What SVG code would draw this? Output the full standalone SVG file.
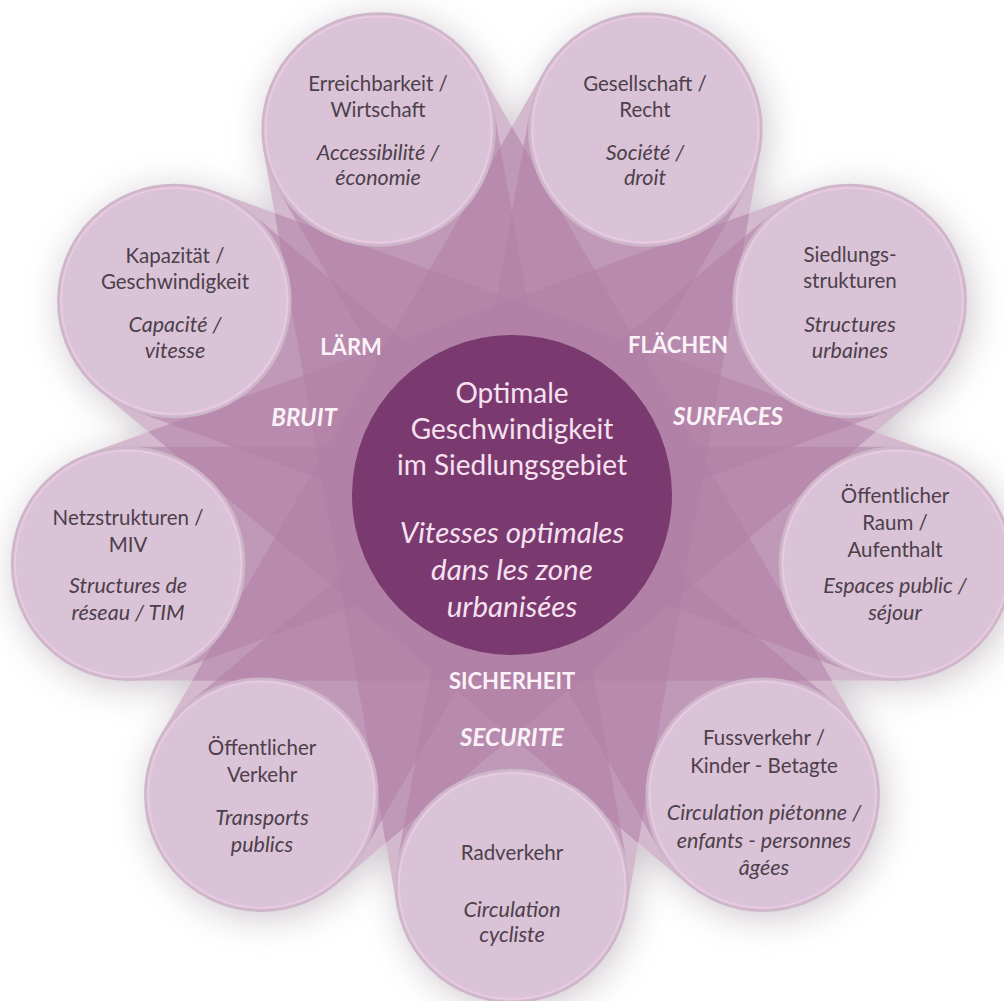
<svg xmlns="http://www.w3.org/2000/svg" xmlns:xlink="http://www.w3.org/1999/xlink" width="1004" height="1001" viewBox="0 0 1004 1001">
<style>
.band{fill:#b07fa6;fill-opacity:0.55}
.oc{fill:#dac3d6;stroke:#cdb6c8;stroke-width:2.5}
.rim{fill:none;stroke:#eccae5;stroke-width:1.5}
.t{font-family:Lato,"Open Sans","Liberation Sans",sans-serif;font-size:20.5px;fill:#4c404b;text-anchor:middle}
.t.i{font-style:italic;font-size:21.5px}
.c{font-family:Lato,"Open Sans","Liberation Sans",sans-serif;font-size:28px;fill:#f6e1f1;text-anchor:middle}
.c.i{font-style:italic;font-size:29.5px}
.lab{font-family:Lato,"Open Sans","Liberation Sans",sans-serif;font-size:22px;font-weight:bold;fill:#fbf2f8;text-anchor:middle}
.lab.i{font-style:italic;font-size:24px}
</style>
<defs>
<rect id="band" x="127.9" y="446.7" width="768.2" height="234"/>
<g id="bandset">
<use href="#band"/>
<use href="#band" transform="rotate(40 512 496)"/>
<use href="#band" transform="rotate(80 512 496)"/>
<use href="#band" transform="rotate(120 512 496)"/>
<use href="#band" transform="rotate(160 512 496)"/>
<use href="#band" transform="rotate(200 512 496)"/>
<use href="#band" transform="rotate(240 512 496)"/>
<use href="#band" transform="rotate(280 512 496)"/>
<use href="#band" transform="rotate(320 512 496)"/>
</g>
<g id="circset">
<circle cx="512" cy="886" r="117"/>
<circle cx="261.3" cy="794.7" r="117"/>
<circle cx="128.1" cy="563.7" r="117"/>
<circle cx="174.3" cy="301" r="117"/>
<circle cx="378.6" cy="129.5" r="117"/>
<circle cx="645.4" cy="129.5" r="117"/>
<circle cx="849.7" cy="301" r="117"/>
<circle cx="895.9" cy="563.7" r="117"/>
<circle cx="762.7" cy="794.7" r="117"/>
</g>
<filter id="blur" x="-20%" y="-20%" width="140%" height="140%">
<feGaussianBlur stdDeviation="18"/>
</filter>
<mask id="outside" maskUnits="userSpaceOnUse" x="0" y="0" width="1004" height="1001">
<rect x="0" y="0" width="1004" height="1001" fill="#fff"/>
<use href="#bandset" fill="#000"/>
<use href="#circset" fill="#000"/>
</mask>
</defs>
<rect x="0" y="0" width="1004" height="1001" fill="#ffffff"/>
<g id="shadow" mask="url(#outside)">
<g filter="url(#blur)" fill="#7e6a7b" opacity="0.38" transform="translate(4 6)">
<use href="#bandset"/>
<use href="#circset"/>
</g>
</g>
<g id="connectors">
<use href="#band" class="band"/>
<use href="#band" class="band" transform="rotate(40 512 496)"/>
<use href="#band" class="band" transform="rotate(80 512 496)"/>
<use href="#band" class="band" transform="rotate(120 512 496)"/>
<use href="#band" class="band" transform="rotate(160 512 496)"/>
<use href="#band" class="band" transform="rotate(200 512 496)"/>
<use href="#band" class="band" transform="rotate(240 512 496)"/>
<use href="#band" class="band" transform="rotate(280 512 496)"/>
<use href="#band" class="band" transform="rotate(320 512 496)"/>
</g>
<g id="labels">
<text class="lab" x="351" y="355">LÄRM</text>
<text class="lab i" x="304" y="426">BRUIT</text>
<text class="lab" x="678" y="353">FLÄCHEN</text>
<text class="lab i" x="728" y="425">SURFACES</text>
<text class="lab" x="512" y="689">SICHERHEIT</text>
<text class="lab i" x="512" y="746">SECURITE</text>
</g>
<g id="center">
<circle cx="512" cy="495" r="160" fill="#7b3a6f"/>
<text class="c" x="512" y="403">Optimale</text>
<text class="c" x="512" y="439">Geschwindigkeit</text>
<text class="c" x="512" y="475">im Siedlungsgebiet</text>
<text class="c i" x="512" y="543">Vitesses optimales</text>
<text class="c i" x="512" y="580">dans les zone</text>
<text class="c i" x="512" y="617">urbanisées</text>
</g>
<g id="erreichbarkeit">
<circle class="oc" cx="378.6" cy="129.5" r="116"/><circle class="rim" cx="378.6" cy="129.5" r="113"/>
<text class="t" x="378" y="91">Erreichbarkeit /</text>
<text class="t" x="378" y="117">Wirtschaft</text>
<text class="t i" x="378" y="160">Accessibilité /</text>
<text class="t i" x="378" y="185">économie</text>
</g>
<g id="gesellschaft">
<circle class="oc" cx="645.4" cy="129.5" r="116"/><circle class="rim" cx="645.4" cy="129.5" r="113"/>
<text class="t" x="645" y="91">Gesellschaft /</text>
<text class="t" x="645" y="117">Recht</text>
<text class="t i" x="645" y="160">Société /</text>
<text class="t i" x="645" y="185">droit</text>
</g>
<g id="siedlung">
<circle class="oc" cx="849.7" cy="301" r="116"/><circle class="rim" cx="849.7" cy="301" r="113"/>
<text class="t" x="850" y="262">Siedlungs-</text>
<text class="t" x="850" y="288">strukturen</text>
<text class="t i" x="850" y="332">Structures</text>
<text class="t i" x="850" y="358">urbaines</text>
</g>
<g id="raum">
<circle class="oc" cx="895.9" cy="563.7" r="116"/><circle class="rim" cx="895.9" cy="563.7" r="113"/>
<text class="t" x="895" y="503">Öffentlicher</text>
<text class="t" x="895" y="530">Raum /</text>
<text class="t" x="895" y="557">Aufenthalt</text>
<text class="t i" x="895" y="593">Espaces public /</text>
<text class="t i" x="895" y="620">séjour</text>
</g>
<g id="fussverkehr">
<circle class="oc" cx="762.7" cy="794.7" r="116"/><circle class="rim" cx="762.7" cy="794.7" r="113"/>
<text class="t" x="764" y="745">Fussverkehr /</text>
<text class="t" x="764" y="773">Kinder - Betagte</text>
<text class="t i" x="764" y="820">Circulation piétonne /</text>
<text class="t i" x="764" y="848">enfants - personnes</text>
<text class="t i" x="764" y="875">âgées</text>
</g>
<g id="radverkehr">
<circle class="oc" cx="512" cy="886" r="116"/><circle class="rim" cx="512" cy="886" r="113"/>
<text class="t" x="512" y="860">Radverkehr</text>
<text class="t i" x="512" y="917">Circulation</text>
<text class="t i" x="512" y="942">cycliste</text>
</g>
<g id="oev">
<circle class="oc" cx="261.3" cy="794.7" r="116"/><circle class="rim" cx="261.3" cy="794.7" r="113"/>
<text class="t" x="262" y="755">Öffentlicher</text>
<text class="t" x="262" y="782">Verkehr</text>
<text class="t i" x="262" y="825">Transports</text>
<text class="t i" x="262" y="852">publics</text>
</g>
<g id="netz">
<circle class="oc" cx="128.1" cy="563.7" r="116"/><circle class="rim" cx="128.1" cy="563.7" r="113"/>
<text class="t" x="128" y="525">Netzstrukturen /</text>
<text class="t" x="128" y="552">MIV</text>
<text class="t i" x="128" y="593">Structures de</text>
<text class="t i" x="128" y="620">réseau / TIM</text>
</g>
<g id="kapazitaet">
<circle class="oc" cx="174.3" cy="301" r="116"/><circle class="rim" cx="174.3" cy="301" r="113"/>
<text class="t" x="175" y="263">Kapazität /</text>
<text class="t" x="175" y="289">Geschwindigkeit</text>
<text class="t i" x="175" y="332">Capacité /</text>
<text class="t i" x="175" y="358">vitesse</text>
</g>
</svg>
